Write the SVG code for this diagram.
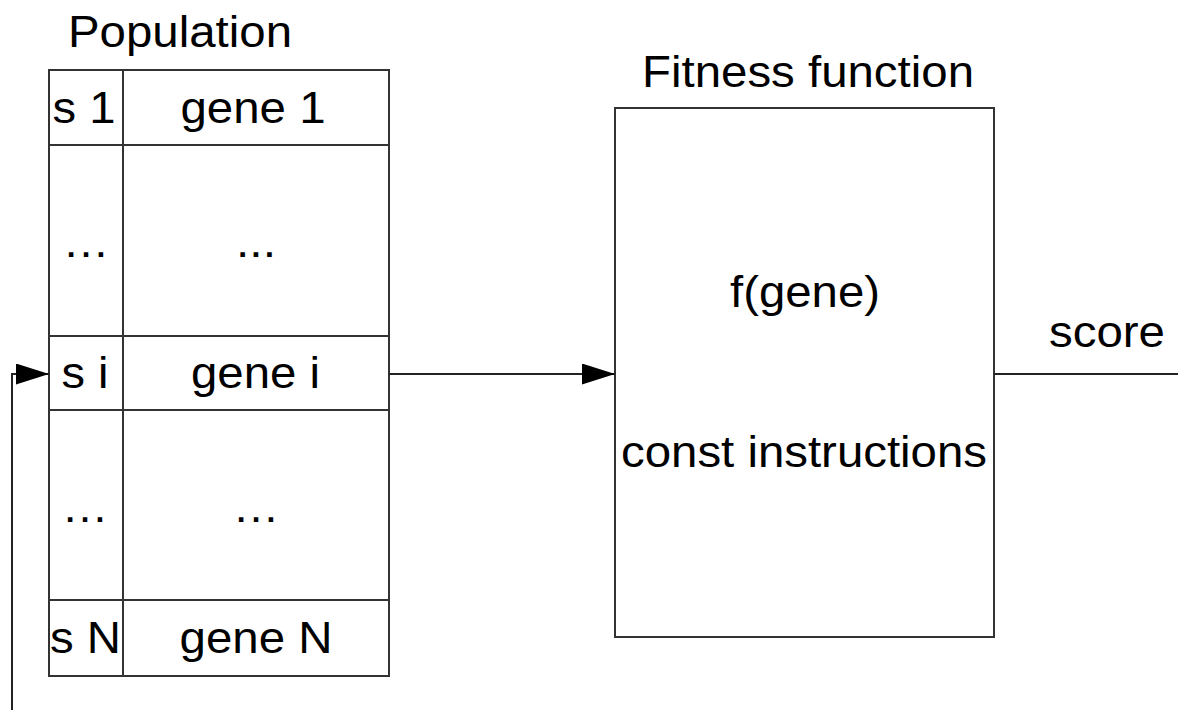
<svg xmlns="http://www.w3.org/2000/svg" width="1178" height="710" viewBox="0 0 1178 710">
  <style>
    .box { fill: #ffffff; stroke: #333333; stroke-width: 2; }
    .rule { stroke: #333333; stroke-width: 2; fill: none; }
    .wire { stroke: #222222; stroke-width: 2; fill: none; }
    text { font-family: "Liberation Sans", Arial, sans-serif; font-size: 44px; fill: #000000; text-anchor: middle; }
  </style>
  <defs>
    <marker id="arrowhead" markerUnits="userSpaceOnUse" markerWidth="34" markerHeight="22" refX="33" refY="10.5" orient="auto">
      <path d="M0,0 L33,10.5 L0,21 Z" fill="#000000"/>
    </marker>
  </defs>
  <rect width="1178" height="710" fill="#ffffff"/>

  <!-- Population table -->
  <g id="population">
    <text x="180" y="47" textLength="224" lengthAdjust="spacingAndGlyphs">Population</text>
    <rect class="box" x="49" y="70" width="340" height="606"/>
    <line class="rule" x1="123" y1="70" x2="123" y2="676"/>
    <line class="rule" x1="49" y1="145" x2="389" y2="145"/>
    <line class="rule" x1="49" y1="336" x2="389" y2="336"/>
    <line class="rule" x1="49" y1="410" x2="389" y2="410"/>
    <line class="rule" x1="49" y1="600" x2="389" y2="600"/>
  </g>
  <g id="row-1">
    <text x="84" y="123" textLength="63" lengthAdjust="spacingAndGlyphs">s 1</text>
    <text x="253" y="123" textLength="145" lengthAdjust="spacingAndGlyphs">gene 1</text>
  </g>
  <g id="row-gap-upper">
    <text x="86" y="257" textLength="47" lengthAdjust="spacingAndGlyphs">…</text>
    <text x="256" y="257" textLength="40" lengthAdjust="spacingAndGlyphs">...</text>
  </g>
  <g id="row-i">
    <text x="85" y="388" textLength="47" lengthAdjust="spacingAndGlyphs">s i</text>
    <text x="255.5" y="388" textLength="129" lengthAdjust="spacingAndGlyphs">gene i</text>
  </g>
  <g id="row-gap-lower">
    <text x="85" y="522" textLength="47" lengthAdjust="spacingAndGlyphs">…</text>
    <text x="256" y="522" textLength="47" lengthAdjust="spacingAndGlyphs">…</text>
  </g>
  <g id="row-n">
    <text x="85.5" y="653" textLength="71" lengthAdjust="spacingAndGlyphs">s N</text>
    <text x="256" y="653" textLength="153" lengthAdjust="spacingAndGlyphs">gene N</text>
  </g>

  <!-- Fitness function block -->
  <g id="fitness">
    <text x="808" y="87" textLength="332" lengthAdjust="spacingAndGlyphs">Fitness function</text>
    <rect class="box" x="615" y="108" width="379" height="529"/>
    <text x="805" y="307" textLength="150" lengthAdjust="spacingAndGlyphs">f(gene)</text>
    <text x="804" y="467" textLength="366" lengthAdjust="spacingAndGlyphs">const instructions</text>
  </g>

  <g id="score-label">
    <text x="1107" y="347" textLength="116" lengthAdjust="spacingAndGlyphs">score</text>
  </g>

  <!-- Connectors -->
  <g id="connectors">
    <line class="wire" x1="389" y1="374" x2="615" y2="374" marker-end="url(#arrowhead)"/>
    <line class="wire" x1="994" y1="374" x2="1178" y2="374"/>
    <polyline class="wire" points="12,710 12,374 49,374" marker-end="url(#arrowhead)"/>
  </g>
</svg>
